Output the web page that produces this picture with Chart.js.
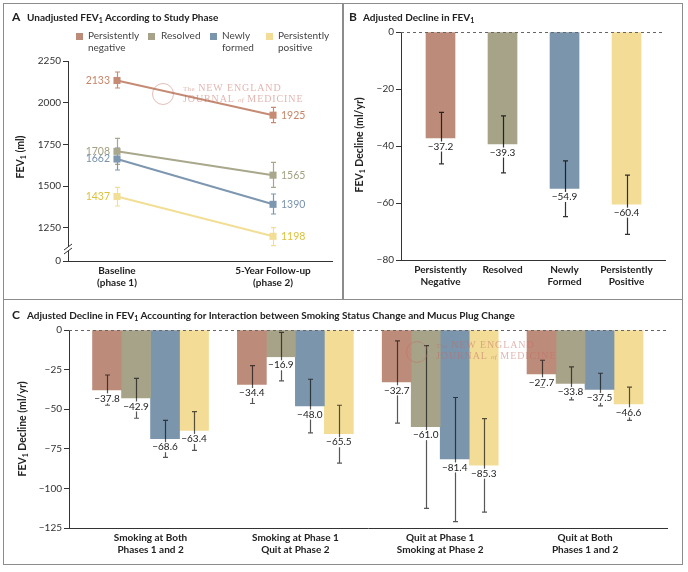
<!DOCTYPE html>
<html><head><meta charset="utf-8">
<script src="https://cdn.jsdelivr.net/npm/chart.js@4.4.0/dist/chart.umd.min.js"></script>
<style>
html,body{margin:0;padding:0;background:#fff;}
body{width:688px;height:572px;position:relative;overflow:hidden;font-family:Lato,"Noto Sans",sans-serif;}
canvas{position:absolute;}
.t{position:absolute;white-space:nowrap;color:#222;}
.pl{font-weight:bold;font-size:12px;line-height:14px;}
.pt{font-weight:bold;font-size:10px;line-height:14px;}
.pt sub,.yt sub{font-size:7px;vertical-align:-2px;line-height:0;}
.yt{position:absolute;white-space:nowrap;font-weight:bold;font-size:10.5px;color:#222;transform:translate(-50%,-50%) rotate(-90deg);}
.sq{position:absolute;width:7px;height:7px;}
.lg{position:absolute;font-size:10px;line-height:11.5px;color:#444;white-space:nowrap;}
.wm{position:absolute;white-space:nowrap;font-family:"Liberation Serif","DejaVu Serif",serif;font-size:10px;letter-spacing:0.9px;color:rgba(196,110,100,0.5);line-height:11px;}
.wm small{font-size:7px;letter-spacing:0.3px;}
.seal{position:absolute;border:1.2px solid rgba(196,110,100,0.45);border-radius:50%;box-sizing:border-box;}
.frame{position:absolute;left:3px;top:3px;width:680px;height:562px;box-sizing:border-box;border:1.5px solid #8c8c8c;}
.div{position:absolute;background:#8c8c8c;}
</style></head><body>
<canvas id="ca" width="342" height="298" style="left:0;top:0"></canvas>
<canvas id="cb" width="340" height="298" style="left:343px;top:0"></canvas>
<canvas id="cc" width="684" height="268" style="left:0;top:299px"></canvas>

<div class="frame"></div>
<div class="div" style="left:342px;top:3px;width:1.5px;height:296px"></div>
<div class="div" style="left:3px;top:298.5px;width:680px;height:1.5px"></div>

<div class="t pl" style="left:12px;top:10px">A</div>
<div class="t pt" style="left:27px;top:10px">Unadjusted FEV<sub>1</sub> According to Study Phase</div>
<div class="t pl" style="left:349px;top:10px">B</div>
<div class="t pt" style="left:363px;top:10px">Adjusted Decline in FEV<sub>1</sub></div>
<div class="t pl" style="left:12px;top:308px">C</div>
<div class="t pt" style="left:27px;top:308px">Adjusted Decline in FEV<sub>1</sub> Accounting for Interaction between Smoking Status Change and Mucus Plug Change</div>

<div class="yt" style="left:20px;top:157px">FEV<sub>1</sub> (ml)</div>
<div class="yt" style="left:359px;top:145px">FEV<sub>1</sub> Decline (ml/yr)</div>
<div class="yt" style="left:22px;top:429px">FEV<sub>1</sub> Decline (ml/yr)</div>

<div id="legend"></div>

<div class="seal" style="left:152px;top:83px;width:22px;height:22px"></div>
<div class="wm" style="left:183px;top:82px"><small>The</small> NEW ENGLAND</div>
<div class="wm" style="left:183px;top:93px">JOURNAL <small><i>of</i></small> MEDICINE</div>
<div class="seal" style="left:406px;top:341px;width:22px;height:22px"></div>
<div class="wm" style="left:436px;top:339px"><small>The</small> NEW ENGLAND</div>
<div class="wm" style="left:436px;top:350px">JOURNAL <small><i>of</i></small> MEDICINE</div>

<script>
// ---------------- Data ----------------
const seriesNames = [['Persistently','negative'],['Resolved'],['Newly','formed'],['Persistently','positive']];
const seriesColors = ['#bd8b7a','#a6a388','#7b95ac','#f3dd96'];
const lineColors = ['#c58b74','#a9a78c','#7d97b0','#f2df95'];
const textColors = ['#c5856a','#a3a083','#7993ad','#dcc23e'];

// Panel A
const phaseLabels = [['Baseline','(phase 1)'],['5-Year Follow-up','(phase 2)']];
const fevBaseline = [2133,1708,1662,1437];
const fevFollowup = [1925,1565,1390,1198];
const fevBaselineLow = [2088,1630,1596,1380];
const fevBaselineHigh = [2184,1786,1728,1492];
const fevFollowupLow = [1880,1492,1332,1142];
const fevFollowupHigh = [1972,1642,1452,1250];
const fevTickValues = [1050,1250,1500,1750,2000,2250];
const fevTickLabels = ['0','1250','1500','1750','2000','2250'];

// Panel B
const plugCategories = [['Persistently','Negative'],['Resolved'],['Newly','Formed'],['Persistently','Positive']];
const declineValues = [-37.2,-39.3,-54.9,-60.4];
const declineLow = [-46.3,-49.4,-64.8,-71.0];
const declineHigh = [-28.2,-29.4,-45.2,-50.2];
const declineTicks = [-80,-60,-40,-20,0];
const declineTickLabels = ['−80','−60','−40','−20','0'];

// Panel C
const smokingGroups = [['Smoking at Both','Phases 1 and 2'],['Smoking at Phase 1','Quit at Phase 2'],['Quit at Phase 1','Smoking at Phase 2'],['Quit at Both','Phases 1 and 2']];
const cPersNeg = [-37.8,-34.4,-32.7,-27.7];
const cResolved = [-42.9,-16.9,-61.0,-33.8];
const cNewly = [-68.6,-48.0,-81.4,-37.5];
const cPersPos = [-63.4,-65.5,-85.3,-46.6];
const cPersNegLow = [-47.5,-46.4,-58.8,-36.3];
const cPersNegHigh = [-28.4,-22.5,-6.9,-19.1];
const cResolvedLow = [-55.7,-32.1,-112.6,-44.1];
const cResolvedHigh = [-30.5,-1.5,-9.9,-23.3];
const cNewlyLow = [-80.4,-64.9,-121.0,-47.9];
const cNewlyHigh = [-57.1,-31.1,-42.6,-27.3];
const cPersPosLow = [-76.0,-84.0,-115.0,-57.1];
const cPersPosHigh = [-51.5,-47.5,-56.0,-36.1];
const smokeTicks = [-125,-100,-75,-50,-25,0];
const smokeTickLabels = ['−125','−100','−75','−50','−25','0'];

// ---------------- Legend (HTML) ----------------
const legendPos = [[76,88],[148,161],[210,222],[266,278]];
const lg = document.getElementById('legend');
seriesNames.forEach((n,i)=>{
  const s = document.createElement('div'); s.className='sq';
  s.style.left = legendPos[i][0]+'px'; s.style.top='33px'; s.style.background = seriesColors[i];
  lg.appendChild(s);
  const t = document.createElement('div'); t.className='lg';
  t.style.left = legendPos[i][1]+'px'; t.style.top='30px';
  t.innerHTML = n.join('<br>');
  lg.appendChild(t);
});

// ---------------- Chart setup ----------------
Chart.defaults.font.family = 'Lato';
Chart.defaults.color = '#333';
Chart.defaults.animation = false;

const fmt = v => (v < 0 ? '−' : '') + Math.abs(v).toFixed(1);

function drawErrorBars(chart, behind){
  const ctx = chart.ctx, ys = chart.scales.y;
  chart.data.datasets.forEach((ds, di) => {
    if (!ds.errLow || !!ds.errBehind !== behind) return;
    const meta = chart.getDatasetMeta(di);
    ctx.save();
    ctx.strokeStyle = ds.errColor; ctx.lineWidth = 1.2;
    meta.data.forEach((el, i) => {
      const x = Math.round(el.x) + 0.5;
      const y1 = ys.getPixelForValue(ds.errLow[i]), y2 = ys.getPixelForValue(ds.errHigh[i]);
      ctx.beginPath();
      ctx.moveTo(x, y1); ctx.lineTo(x, y2);
      ctx.moveTo(x-2.5, y1); ctx.lineTo(x+2.5, y1);
      ctx.moveTo(x-2.5, y2); ctx.lineTo(x+2.5, y2);
      ctx.stroke();
    });
    ctx.restore();
  });
}

const annot = {
  id: 'annot',
  beforeDatasetsDraw(chart){ drawErrorBars(chart, true); },
  afterDatasetsDraw(chart){
    const ctx = chart.ctx, ys = chart.scales.y, area = chart.chartArea;
    const o = chart.options.plugins.annot || {};
    if (o.zeroLine){
      const y0 = Math.round(ys.getPixelForValue(0)) + 0.5;
      ctx.save(); ctx.strokeStyle = '#666'; ctx.lineWidth = 1; ctx.setLineDash([3,3]);
      ctx.beginPath(); ctx.moveTo(area.left, y0); ctx.lineTo(area.right, y0); ctx.stroke(); ctx.restore();
    }
    drawErrorBars(chart, false);
    chart.data.datasets.forEach((ds, di) => {
      const meta = chart.getDatasetMeta(di);
      if (ds.valueLabels){
        ctx.save(); ctx.font = '10px Lato'; ctx.textAlign = 'center'; ctx.textBaseline = 'middle';
        meta.data.forEach((el, i) => {
          const txt = fmt(ds.valueLabels[i]);
          const w = ctx.measureText(txt).width;
          const y = el.y + 8.5;
          ctx.fillStyle = '#fff'; ctx.fillRect(el.x - w/2 - 1, y - 5, w + 2, 10);
          ctx.fillStyle = '#222'; ctx.fillText(txt, el.x, y);
        });
        ctx.restore();
      }
      if (ds.endLabels){
        ctx.save(); ctx.font = '10.5px Lato'; ctx.textBaseline = 'middle'; ctx.fillStyle = ds.labelColor;
        meta.data.forEach((el, i) => {
          if (i === 0){ ctx.textAlign = 'right'; ctx.fillText(ds.endLabels[i], el.x - 7, el.y); }
          else { ctx.textAlign = 'left'; ctx.fillText(ds.endLabels[i], el.x + 8, el.y); }
        });
        ctx.restore();
      }
    });
  },
  afterDraw(chart){
    const o = chart.options.plugins.annot || {};
    if (!o.axisBreak) return;
    const ctx = chart.ctx, ys = chart.scales.y, x = chart.chartArea.left;
    const yb = ys.getPixelForValue(fevTickValues[1]) + 0.64*(ys.getPixelForValue(fevTickValues[0]) - ys.getPixelForValue(fevTickValues[1]));
    ctx.save();
    ctx.fillStyle = '#fff'; ctx.fillRect(x - 2, yb - 2, 4, 4);
    ctx.strokeStyle = '#333'; ctx.lineWidth = 1;
    ctx.beginPath();
    ctx.moveTo(x - 4, yb + 1); ctx.lineTo(x + 4, yb - 5);
    ctx.moveTo(x - 4, yb + 5); ctx.lineTo(x + 4, yb - 1);
    ctx.stroke();
    ctx.restore();
  }
};

function yAxis(min, max, vals, labels, width){
  return {
    min, max,
    afterBuildTicks: s => { s.ticks = vals.map(v => ({value: v})); },
    afterFit: s => { s.width = width; },
    grid: {display: true, drawOnChartArea: false, drawTicks: true, tickLength: 5, color: '#333'},
    border: {display: true, color: '#333', width: 1},
    ticks: {callback: (v, i) => labels[i], font: {size: 10}, color: '#333', padding: 2, autoSkip: false}
  };
}
function xAxis(min, max, labels, height){
  return {
    type: 'linear', min, max, offset: false,
    afterBuildTicks: s => { s.ticks = labels.map((_, i) => ({value: i})); },
    afterFit: s => { s.height = height; },
    grid: {display: false, drawTicks: false},
    border: {display: true, color: '#333', width: 1},
    ticks: {callback: (v, i) => labels[i], font: {size: 10, weight: 'bold', lineHeight: 1.2}, color: '#222', padding: 4, maxRotation: 0, autoSkip: false}
  };
}
const basePlugins = {legend: {display: false}, tooltip: {enabled: false}};

// Panel A
new Chart(document.getElementById('ca'), {
  type: 'line',
  data: {datasets: fevBaseline.map((b, i) => ({
    data: [{x: 0, y: b}, {x: 1, y: fevFollowup[i]}],
    borderColor: lineColors[i], backgroundColor: lineColors[i], borderWidth: 2,
    pointStyle: 'rect', pointRadius: 5, pointBorderWidth: 0, pointBackgroundColor: lineColors[i],
    errLow: [fevBaselineLow[i], fevFollowupLow[i]], errHigh: [fevBaselineHigh[i], fevFollowupHigh[i]],
    errColor: lineColors[i], errBehind: true,
    endLabels: [String(b), String(fevFollowup[i])], labelColor: textColors[i]
  }))},
  options: {
    responsive: false, animation: false, devicePixelRatio: 1,
    layout: {padding: {left: 0, top: 61, right: 10, bottom: 0}},
    plugins: Object.assign({annot: {axisBreak: true}}, basePlugins),
    scales: {
      x: xAxis(-0.314, 1.378, phaseLabels, 37),
      y: yAxis(fevTickValues[0], fevTickValues[fevTickValues.length-1], fevTickValues, fevTickLabels, 68)
    }
  },
  plugins: [annot]
});

// Panel B
new Chart(document.getElementById('cb'), {
  type: 'bar',
  data: {datasets: [{
    data: declineValues.map((v, i) => ({x: i, y: v})),
    backgroundColor: seriesColors, barThickness: 29,
    errLow: declineLow, errHigh: declineHigh, errColor: 'rgba(15,15,15,0.85)',
    valueLabels: declineValues
  }]},
  options: {
    responsive: false, animation: false, devicePixelRatio: 1,
    layout: {padding: {left: 0, top: 32, right: 18, bottom: 0}},
    plugins: Object.assign({annot: {zeroLine: true}}, basePlugins),
    scales: {
      x: xAxis(-0.637, 3.62, plugCategories, 38),
      y: yAxis(-80, 0, declineTicks, declineTickLabels, 58)
    }
  },
  plugins: [annot]
});

// Panel C
const cSeries = [cPersNeg, cResolved, cNewly, cPersPos];
const cLow = [cPersNegLow, cResolvedLow, cNewlyLow, cPersPosLow];
const cHigh = [cPersNegHigh, cResolvedHigh, cNewlyHigh, cPersPosHigh];
new Chart(document.getElementById('cc'), {
  type: 'bar',
  data: {datasets: cSeries.map((vals, k) => ({
    data: vals.map((v, i) => ({x: i, y: v})),
    backgroundColor: seriesColors[k], barThickness: 29,
    errLow: cLow[k], errHigh: cHigh[k], errColor: 'rgba(15,15,15,0.7)',
    valueLabels: vals
  }))},
  options: {
    responsive: false, animation: false, devicePixelRatio: 1,
    layout: {padding: {left: 0, top: 31, right: 17, bottom: 0}},
    plugins: Object.assign({annot: {zeroLine: true}}, basePlugins),
    scales: {
      x: xAxis(-0.563, 3.566, smokingGroups, 39),
      y: yAxis(-125, 0, smokeTicks, smokeTickLabels, 69)
    }
  },
  plugins: [annot]
});
</script>
</body></html>
